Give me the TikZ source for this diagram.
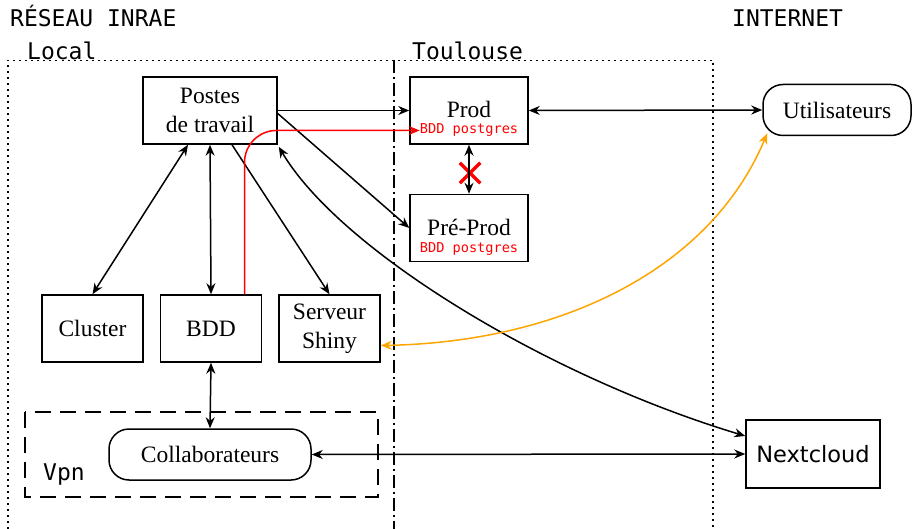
\documentclass[tikz,border=0pt]{standalone}
\usepackage{fontspec}
\setmainfont{Liberation Serif}
\setmonofont{DejaVu Sans Mono}
\newfontfamily\cloudfont{DejaVu Sans}
\usepackage{xcolor}
\usetikzlibrary{positioning}
\usetikzlibrary{arrows.meta}
\usetikzlibrary{shapes.misc}
\definecolor{shinyorange}{HTML}{FFA500}

\begin{document}
\begin{tikzpicture}[
  x=1pt, y=-1pt,
  font=\fontsize{23.5}{29}\selectfont,
  box/.style={draw, line width=1.5pt, align=center, minimum width=101pt, minimum height=67pt, inner sep=2pt},
  roundbox/.style={draw, line width=1.5pt, rounded corners=20pt, align=center, minimum height=51pt},
  zone/.style={font=\ttfamily\fontsize{23}{25}\selectfont, anchor=base west, inner sep=0pt},
  dbname/.style={anchor=base, inner sep=0pt, text depth=0pt},
  dbtag/.style={font=\ttfamily\fontsize{13.6}{14}\selectfont, text=red, anchor=base, inner sep=0pt, text height=9pt},
  arrow/.style={-{Stealth[length=11pt, width=9pt]}, line width=1.5pt},
  biarrow/.style={{Stealth[length=11pt, width=9pt]}-{Stealth[length=11pt, width=9pt]}, line width=1.5pt}
]
\useasboundingbox (0,0) rectangle (912,529);

% zones
\draw[line width=1.5pt, dash pattern=on 2pt off 4pt] (8,529) -- (8,60.5) -- (713,60.5) -- (713,529);
\draw[line width=1.5pt, dash pattern=on 13pt off 4pt on 2pt off 4pt] (394,60.5) -- (394,529);
\draw[line width=1.5pt, dash pattern=on 16pt off 9pt] (25,412) rectangle (378,497);

\node[zone] (reseau) at (10,27) {RÉSEAU INRAE};
\node[zone] (internet) at (732,27) {INTERNET};
\node[zone] (local) at (27,60) {Local};
\node[zone] (toulouse) at (412,60) {Toulouse};
\node[zone] (vpn) at (43,480) {Vpn};

% machines
\node[box, minimum width=134pt] (postes) at (210,110.5) {Postes\\de travail};
\node[box, minimum width=118pt] (prod) at (469,110.5) {};
\node[dbname] (prodname) at (469,118) {Prod};
\node[dbtag] (prodtag) at (469,133.5) {BDD postgres};
\node[box, minimum width=118pt] (preprod) at (469,228) {};
\node[dbname] (preprodname) at (469,236) {Pré-Prod};
\node[dbtag] (preprodtag) at (469,252) {BDD postgres};

\node[box] (cluster) at (92.5,328.5) {Cluster};
\node[box, right=16pt of cluster] (bdd) {BDD};
\node[box, right=16pt of bdd] (shiny) {Serveur\\Shiny};

\node[roundbox, minimum width=202pt] (collab) at (210,454.5) {Collaborateurs};
\node[roundbox, minimum width=148pt] (users) at (837,110) {Utilisateurs};
\node[box, minimum width=134pt, minimum height=68pt, font=\cloudfont\fontsize{22.5}{26}\selectfont] (nextcloud) at (813,454) {Nextcloud};

\node[cross out, draw=red, line width=3.5pt, minimum size=17pt, inner sep=0pt] (stop) at (470,173) {};

% liens
\draw[arrow] (postes.east) -- (prod.west);
\draw[arrow] ([yshift=-3pt]postes.east) -- (preprod.west);
\draw[biarrow] ([xshift=-22pt]postes.south) -- (cluster.north);
\draw[biarrow] (postes.south) -- (bdd.north);
\draw[arrow] ([xshift=22pt]postes.south) -- (shiny.north);
\draw[biarrow] (prod.south) -- (preprod.north);
\draw[biarrow] (prod.east) -- (users.west);
\draw[biarrow] (bdd.south) -- (collab.north);
\draw[biarrow] (collab.east) -- (nextcloud.west);
\draw[biarrow] ([xshift=1pt, yshift=-2pt]postes.south east) .. controls (340,250) and (546,376) .. ([yshift=18pt]nextcloud.west);
\draw[biarrow, shinyorange] ([yshift=-17pt]shiny.east) .. controls (560,342) and (710,270) .. ([xshift=5pt, yshift=3pt]users.south west);
\draw[arrow, red, rounded corners=32pt] ([xshift=33.5pt]bdd.north) |- (prodtag.west);

\end{tikzpicture}
\end{document}
